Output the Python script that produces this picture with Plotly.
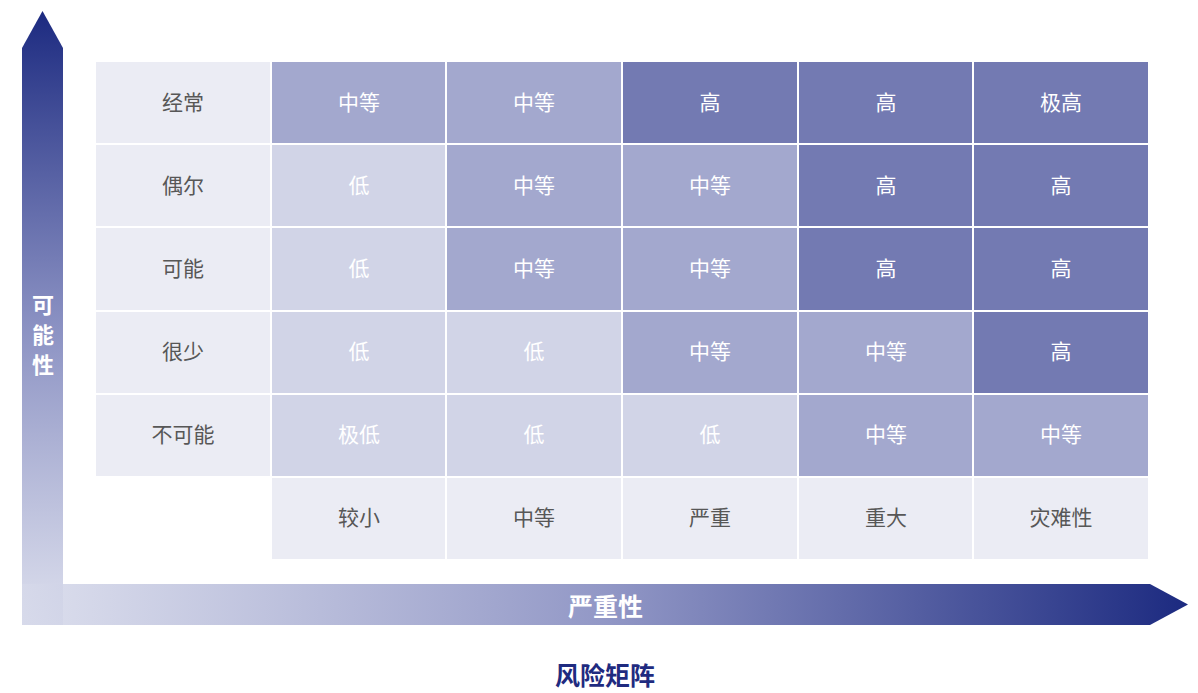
import plotly.graph_objects as go

# ---------------- data ----------------
likelihood = ["不可能", "很少", "可能", "偶尔", "经常"]          # bottom -> top
severity = ["较小", "中等", "严重", "重大", "灾难性"]           # left -> right
# risk level rows, bottom (不可能) -> top (经常)
risk = [
    ["极低", "低", "低", "中等", "中等"],
    ["低", "低", "中等", "中等", "高"],
    ["低", "中等", "中等", "高", "高"],
    ["低", "中等", "中等", "高", "高"],
    ["中等", "中等", "高", "高", "极高"],
]
level_code = {"极低": 0, "低": 0, "中等": 1, "高": 2, "极高": 2}
level_colors = ["#d1d4e7", "#a3a8ce", "#737ab2"]
label_color = "#ebecf4"
title = "风险矩阵"
x_title = "严重性"
y_title = "可能性"

W, H = 1198, 693
FONT = "Noto Sans CJK SC"

# ---------------- grid (x index 0 = label column, y index 0 = label row) ----------------
n = 6
lab_z, lab_t = [], []
lvl_z, lvl_t = [], []
for yi in range(n):
    lz, lt, vz, vt = [], [], [], []
    for xi in range(n):
        if yi == 0 and xi == 0:
            lz.append(None); lt.append("")
            vz.append(None); vt.append("")
        elif yi == 0:
            lz.append(0); lt.append(severity[xi - 1])
            vz.append(None); vt.append("")
        elif xi == 0:
            lz.append(0); lt.append(likelihood[yi - 1])
            vz.append(None); vt.append("")
        else:
            lz.append(None); lt.append("")
            r = risk[yi - 1][xi - 1]
            vz.append(level_code[r]); vt.append(r)
    lab_z.append(lz); lab_t.append(lt)
    lvl_z.append(vz); lvl_t.append(vt)

idx = list(range(n))
fig = go.Figure()

fig.add_trace(go.Heatmap(
    x=idx, y=idx, z=lab_z, text=lab_t, texttemplate="%{text}",
    textfont=dict(family=FONT, size=21, color="#575757"),
    colorscale=[[0, label_color], [1, label_color]], zmin=0, zmax=1,
    showscale=False, xgap=2, ygap=2, hoverinfo="skip",
))
cs = [[0, level_colors[0]], [1 / 3, level_colors[0]],
      [1 / 3, level_colors[1]], [2 / 3, level_colors[1]],
      [2 / 3, level_colors[2]], [1, level_colors[2]]]
fig.add_trace(go.Heatmap(
    x=idx, y=idx, z=lvl_z, text=lvl_t, texttemplate="%{text}",
    textfont=dict(family=FONT, size=21, color="#ffffff"),
    colorscale=cs, zmin=-0.5, zmax=2.5,
    showscale=False, xgap=2, ygap=2, hoverinfo="skip",
))

# ---------------- arrows (separate axis in pixel units, y up) ----------------
def py(v):
    return H - v

# vertical arrow
vx = [22, 63, 63, 42.5, 22, 22]
vy = [py(625), py(625), py(48), py(11), py(48), py(625)]
fig.add_trace(go.Scatter(
    x=vx, y=vy, xaxis="x2", yaxis="y2", mode="lines", line=dict(width=0),
    fill="toself",
    fillgradient=dict(type="vertical",
                      colorscale=[[0, "rgba(214,217,234,0.85)"], [0.5, "rgba(130,137,190,0.95)"], [1, "#1c2a80"]]),
    hoverinfo="skip", showlegend=False,
))
# horizontal arrow
hx = [22, 1150, 1188, 1150, 22, 22]
hy = [py(584), py(584), py(604.5), py(625), py(625), py(584)]
fig.add_trace(go.Scatter(
    x=hx, y=hy, xaxis="x2", yaxis="y2", mode="lines", line=dict(width=0),
    fill="toself",
    fillgradient=dict(type="horizontal",
                      colorscale=[[0, "rgba(214,217,234,0.85)"], [0.5, "rgba(140,146,195,0.95)"], [1, "#1c2a80"]]),
    hoverinfo="skip", showlegend=False,
))

annotations = [
    dict(x=605, y=py(605), xref="x2", yref="y2", text="<b>" + x_title + "</b>",
         showarrow=False, font=dict(family=FONT, size=25, color="white")),
    dict(x=605, y=py(674), xref="x2", yref="y2", text="<b>" + title + "</b>",
         showarrow=False, font=dict(family=FONT, size=25, color="#1f2b80")),
]
for i, ch in enumerate(y_title):
    annotations.append(dict(
        x=42.5, y=py(303 + 30 * i), xref="x2", yref="y2", text="<b>" + ch + "</b>",
        showarrow=False, font=dict(family=FONT, size=22, color="white"),
    ))

fig.update_layout(
    width=W, height=H, margin=dict(l=0, r=0, t=0, b=0),
    paper_bgcolor="white", plot_bgcolor="rgba(0,0,0,0)",
    showlegend=False,
    xaxis=dict(domain=[95 / W, 1149 / W], range=[-0.5, 5.5], visible=False, fixedrange=True),
    yaxis=dict(domain=[1 - 560 / H, 1 - 61 / H], range=[-0.5, 5.5], visible=False, fixedrange=True),
    xaxis2=dict(domain=[0, 1], range=[0, W], visible=False, anchor="y2", fixedrange=True),
    yaxis2=dict(domain=[0, 1], range=[0, H], visible=False, anchor="x2", fixedrange=True),
    annotations=annotations,
)

fig.write_html("out.html")
